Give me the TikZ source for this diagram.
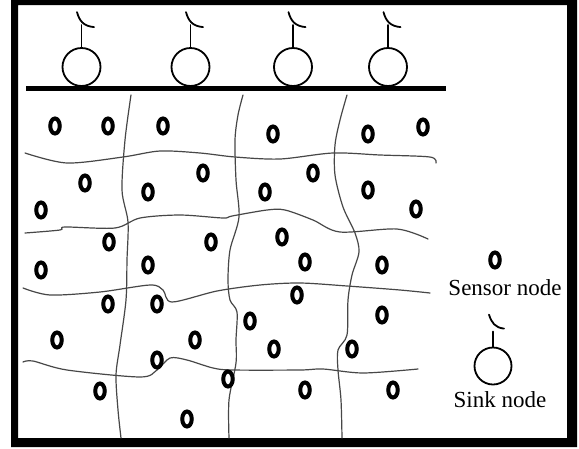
\documentclass[tikz,border=0pt]{standalone}
\usepackage{fontspec}
\setmainfont{Liberation Serif}
\usetikzlibrary{shapes.geometric,calc}
\tikzset{
  sensor/.style={ellipse, draw=black, line width=4pt, minimum width=9.5pt, minimum height=15pt, inner sep=0pt},
  sink/.style={circle, draw=black, line width=1.8pt, minimum size=38pt, inner sep=0pt},
  gridline/.style={draw=black!72, line width=1.2pt, line join=round, line cap=round},
  antennaline/.style={draw=black, line width=1.8pt, line cap=round},
  legendtext/.style={font=\fontsize{23}{25}\selectfont, inner sep=0pt, anchor=base}
}
\newcommand\myantenna[1]{%
  \draw[antennaline] (#1.north) -- ++(0,-22);
  \draw[antennaline] ($(#1.north)+(-4.5,-35)$) .. controls ($(#1.north)+(-2,-26)$) and ($(#1.north)+(2,-21)$) .. ($(#1.north)+(12.5,-20)$);
}
\begin{document}
\begin{tikzpicture}[x=1pt,y=-1pt]
\useasboundingbox (0,0) rectangle (579,448);
\fill[white] (0,0) rectangle (579,448);
% frame
\fill[black, even odd rule] (11,0) rectangle (577,447) (18,5) rectangle (567,438);
% grid lines
\draw[gridline] plot[smooth, tension=0.5] coordinates {(131,95) (125,140) (122,190) (128,222) (127,260) (126,300) (120,345) (116,375) (118,410) (121,438)};
\draw[gridline] plot[smooth, tension=0.5] coordinates {(243,95) (238,115) (235,140) (236,180) (239,217) (230,250) (228,280) (230,300) (237,312) (236,340) (236,363) (229,400) (229,438)};
\draw[gridline] plot[smooth, tension=0.5] coordinates {(347,95) (340,120) (335,145) (335,175) (343,207) (355,233) (359,252) (352,275) (348,300) (347,335) (338,350) (338,370) (341,400) (342,438)};
\draw[gridline] plot[smooth, tension=0.5] coordinates {(25,153) (67,163) (123,157) (160,151) (200,153) (235,157) (280,159) (333,153) (380,155) (430,157) (436,163)};
\draw[gridline] plot[smooth, tension=0.5] coordinates {(25,233) (60,230) (65,227) (115,228) (140,218) (180,215) (223,218) (232,216) (267,210) (285,210) (313,220) (340,232) (397,229) (428,239)};
\draw[gridline] plot[smooth, tension=0.5] coordinates {(23,288) (50,295) (100,292) (150,285) (163,290) (172,302) (217,291) (260,285) (300,283) (347,286) (400,290) (430,293)};
\draw[gridline] plot[smooth, tension=0.5] coordinates {(23,362) (33,361) (67,370) (140,377) (157,370) (170,358) (187,360) (213,368) (233,370) (300,370) (323,369) (363,373) (418,369)};
% ground line
\draw[line width=4.5pt] (26,88.5) -- (446,88.5);
% sinks
\foreach \i/\x in {1/81.5,2/190.5,3/293,4/388}{
  \node[sink] (k\i) at (\x,67) {};
  \myantenna{k\i}
}
% sensors
\foreach \i/\x/\y in {1/55/126,2/108/126,3/163/126,4/273/134,5/368/134,6/423/127,
  7/85/183,8/41/210,9/148/192,10/203/173,11/265/192,12/313/173,13/368/190,14/416/209,
  15/109/242,16/41/270,17/148/265,18/211/242,19/282/237,20/305/262,21/382/265,22/297/295,
  23/108/304,24/157/304,25/57/340,26/195/340,27/250/321,28/274/349,29/157/360,30/228/379,
  31/100/391,32/187/419,33/382/315,34/352/349,35/305/390,36/393/390}{
  \node[sensor] (s\i) at (\x,\y) {};
}
% legend
\node[sensor] (ls) at (495,260) {};
\node[legendtext] (lst) at (505,295) {Sensor node};
\node[sink, minimum size=37pt] (lk) at (493,366) {};
\draw[antennaline] (lk.north) -- ++(0,-15);
\draw[antennaline] ($(lk.north)+(-4,-32)$) .. controls ($(lk.north)+(-1.5,-24)$) and ($(lk.north)+(2,-19)$) .. ($(lk.north)+(11,-18)$);
\node[legendtext] (lkt) at (500,407) {Sink node};
\end{tikzpicture}
\end{document}
